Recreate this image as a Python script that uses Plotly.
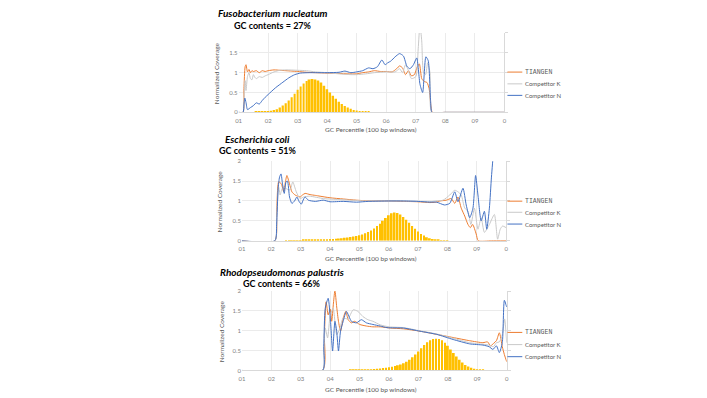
import plotly.graph_objects as go

W, H = 707, 398

# ---------------- data ----------------
tick_vals = [0.1, 0.2, 0.3, 0.4, 0.5, 0.6, 0.7, 0.8, 0.9, 1.0]
tick_text = ["01", "02", "03", "04", "05", "06", "07", "08", "09", "0"]
series_names = ["TIANGEN", "Competitor K", "Competitor N"]

# Panel 1: Fusobacterium nucleatum
fus_tiangen_x = [0.10, 0.115, 0.118, 0.122, 0.125, 0.13, 0.135, 0.14, 0.145, 0.15, 0.16, 0.17, 0.18, 0.19, 0.20, 0.22, 0.24, 0.26, 0.28, 0.30, 0.33, 0.36, 0.40, 0.44, 0.47, 0.50, 0.52, 0.54, 0.56, 0.58, 0.60, 0.62, 0.635, 0.645, 0.655, 0.665, 0.675, 0.685, 0.695, 0.705, 0.712, 0.72, 0.728, 0.738, 0.745, 0.752, 0.756, 0.80, 0.90, 1.0]
fus_tiangen_y = [0, 0, 0.6, 1.15, 1.2, 1.02, 1.08, 1.0, 1.05, 1.03, 1.05, 1.0, 1.05, 1.03, 1.05, 1.07, 1.06, 1.05, 1.04, 1.03, 1.01, 1.0, 0.99, 0.98, 0.97, 0.97, 1.0, 1.02, 1.05, 1.03, 1.03, 1.02, 1.1, 1.17, 1.12, 0.95, 1.05, 0.92, 0.95, 1.15, 1.22, 0.85, 0.78, 0.75, 0.6, 0.1, 0, 0, 0, 0]
fus_k_x = [0.10, 0.115, 0.119, 0.122, 0.125, 0.13, 0.135, 0.14, 0.145, 0.15, 0.155, 0.16, 0.17, 0.18, 0.19, 0.20, 0.22, 0.24, 0.26, 0.30, 0.33, 0.36, 0.40, 0.44, 0.48, 0.50, 0.53, 0.56, 0.60, 0.63, 0.645, 0.655, 0.665, 0.675, 0.685, 0.70, 0.708, 0.714, 0.72, 0.726, 0.733, 0.74, 0.748, 0.754, 0.8, 1.0]
fus_k_y = [0, 0, 0.5, 0.8, 0.55, 0.9, 1.0, 0.85, 0.82, 0.95, 0.88, 0.85, 0.9, 0.88, 0.92, 0.95, 1.02, 1.06, 1.07, 1.06, 1.05, 1.02, 1.0, 0.97, 0.95, 0.95, 0.97, 1.0, 1.02, 1.02, 1.1, 1.0, 1.2, 1.05, 0.85, 0.9, 1.6, 2.2, 1.8, 1.0, 0.95, 1.25, 1.0, 0, 0, 0]
fus_n_x = [0.10, 0.115, 0.118, 0.121, 0.125, 0.13, 0.14, 0.15, 0.16, 0.17, 0.18, 0.19, 0.20, 0.225, 0.25, 0.27, 0.29, 0.31, 0.34, 0.36, 0.40, 0.44, 0.46, 0.48, 0.50, 0.52, 0.54, 0.555, 0.57, 0.585, 0.596, 0.605, 0.615, 0.63, 0.645, 0.658, 0.67, 0.68, 0.692, 0.703, 0.714, 0.723, 0.734, 0.742, 0.75, 0.755, 0.8, 1.0]
fus_n_y = [0, 0, 0.2, 0.36, 0.25, 0.07, 0.12, 0.17, 0.24, 0.21, 0.3, 0.38, 0.45, 0.62, 0.76, 0.87, 0.95, 0.99, 1.0, 1.0, 1.0, 1.01, 1.04, 1.0, 1.02, 1.05, 1.12, 1.1, 1.15, 1.32, 1.2, 1.25, 1.29, 1.4, 1.48, 1.42, 1.16, 1.1, 1.2, 1.37, 0.71, 0.5, 1.4, 1.3, 0.3, 0, 0, 0]
fus_bar_x = [0.14, 0.15, 0.16, 0.17, 0.18, 0.19, 0.20, 0.21, 0.22, 0.23, 0.24, 0.25, 0.26, 0.27, 0.28, 0.29, 0.30, 0.31, 0.32, 0.33, 0.34, 0.35, 0.36, 0.37, 0.38, 0.39, 0.40, 0.41, 0.42, 0.43, 0.44, 0.45, 0.46, 0.47, 0.48, 0.49, 0.50, 0.51, 0.52, 0.53, 0.54, 0.55, 0.56, 0.57, 0.58, 0.59, 0.60]
fus_bar_y = [0.005, 0.005, 0.01, 0.01, 0.015, 0.02, 0.03, 0.04, 0.06, 0.08, 0.12, 0.17, 0.23, 0.3, 0.38, 0.47, 0.57, 0.65, 0.73, 0.79, 0.83, 0.84, 0.83, 0.8, 0.75, 0.67, 0.58, 0.5, 0.42, 0.34, 0.27, 0.21, 0.16, 0.12, 0.09, 0.06, 0.045, 0.03, 0.02, 0.015, 0.01, 0.006, 0.004, 0.003, 0.003, 0.002, 0.002]

# Panel 2: Escherichia coli
eco_tiangen_x = [0.10, 0.212, 0.218, 0.225, 0.234, 0.242, 0.248, 0.253, 0.262, 0.27, 0.281, 0.29, 0.298, 0.306, 0.315, 0.332, 0.35, 0.366, 0.4, 0.445, 0.49, 0.535, 0.6, 0.65, 0.7, 0.74, 0.76, 0.774, 0.796, 0.813, 0.825, 0.836, 0.847, 0.859, 0.87, 0.878, 0.886, 0.898, 0.905, 0.95, 1.0]
eco_tiangen_y = [0, 0, 0.7, 1.48, 1.43, 1.23, 1.48, 1.64, 1.43, 1.23, 1.15, 1.12, 1.1, 1.15, 1.19, 1.16, 1.14, 1.12, 1.08, 1.05, 1.02, 1.0, 1.0, 0.99, 0.98, 0.96, 0.97, 1.0, 1.02, 1.06, 0.94, 1.1, 0.82, 0.62, 0.41, 0.33, 0.41, 0.17, 0, 0, 0]
eco_k_x = [0.10, 0.212, 0.218, 0.225, 0.23, 0.236, 0.242, 0.253, 0.264, 0.273, 0.285, 0.298, 0.31, 0.33, 0.377, 0.42, 0.47, 0.53, 0.6, 0.65, 0.7, 0.74, 0.76, 0.785, 0.808, 0.825, 0.836, 0.847, 0.859, 0.87, 0.88, 0.892, 0.904, 0.915, 0.926, 0.943, 0.96, 0.971, 0.98, 0.988, 1.0]
eco_k_y = [0, 0, 0.6, 1.35, 1.15, 1.3, 1.35, 1.3, 1.28, 1.48, 1.23, 1.06, 1.1, 1.12, 1.06, 1.04, 1.02, 1.0, 1.0, 1.0, 0.99, 0.98, 1.0, 1.02, 1.15, 1.27, 1.23, 1.15, 0.82, 0.74, 0.41, 0.82, 0.29, 0.58, 0.21, 0.41, 0.66, 0.04, 0.29, 0.37, 0.33]
eco_n_x = [0.10, 0.212, 0.218, 0.223, 0.228, 0.233, 0.238, 0.244, 0.25, 0.255, 0.262, 0.27, 0.279, 0.287, 0.295, 0.302, 0.31, 0.315, 0.326, 0.35, 0.377, 0.4, 0.445, 0.49, 0.53, 0.6, 0.65, 0.7, 0.74, 0.763, 0.79, 0.808, 0.825, 0.836, 0.853, 0.864, 0.876, 0.887, 0.896, 0.904, 0.915, 0.926, 0.934, 0.943, 0.95, 0.958, 0.97, 1.0]
eco_n_y = [0, 0, 0.4, 1.3, 1.6, 1.68, 1.43, 1.19, 1.48, 1.5, 1.1, 0.94, 1.0, 1.1, 0.98, 0.92, 1.05, 1.1, 1.02, 0.99, 1.02, 0.98, 0.99, 0.97, 0.99, 1.0, 1.0, 0.99, 0.97, 0.97, 0.9, 0.94, 1.23, 0.98, 1.32, 0.9, 0.58, 0.82, 1.64, 1.15, 0.5, 0.74, 0.29, 0.82, 1.6, 2.3, 3.0, 3.0]
eco_bar_x = [0.25, 0.26, 0.27, 0.28, 0.29, 0.30, 0.31, 0.32, 0.33, 0.34, 0.35, 0.36, 0.37, 0.38, 0.39, 0.40, 0.41, 0.42, 0.43, 0.44, 0.45, 0.46, 0.47, 0.48, 0.49, 0.50, 0.51, 0.52, 0.53, 0.54, 0.55, 0.56, 0.57, 0.58, 0.59, 0.60, 0.61, 0.62, 0.63, 0.64, 0.65, 0.66, 0.67, 0.68, 0.69, 0.70, 0.71, 0.72, 0.73, 0.74, 0.75, 0.76, 0.77, 0.78, 0.79, 0.80]
eco_bar_y = [0.005, 0.005, 0.008, 0.01, 0.01, 0.012, 0.015, 0.017, 0.02, 0.022, 0.025, 0.028, 0.03, 0.034, 0.038, 0.042, 0.047, 0.052, 0.058, 0.065, 0.073, 0.082, 0.092, 0.105, 0.12, 0.14, 0.16, 0.19, 0.22, 0.26, 0.31, 0.37, 0.43, 0.5, 0.57, 0.64, 0.69, 0.71, 0.7, 0.66, 0.6, 0.53, 0.45, 0.37, 0.3, 0.23, 0.17, 0.13, 0.09, 0.065, 0.045, 0.03, 0.02, 0.012, 0.007, 0.004]

# Panel 3: Rhodopseudomonas palustris
rho_tiangen_x = [0.10, 0.374, 0.38, 0.386, 0.393, 0.40, 0.405, 0.411, 0.416, 0.422, 0.428, 0.435, 0.444, 0.453, 0.461, 0.472, 0.483, 0.50, 0.523, 0.545, 0.57, 0.604, 0.649, 0.705, 0.762, 0.818, 0.874, 0.919, 0.935, 0.945, 0.955, 0.965, 0.975, 0.985, 0.992, 1.0]
rho_tiangen_y = [0, 0, 0.9, 1.73, 1.4, 1.55, 1.24, 1.7, 2.02, 1.6, 1.24, 0.99, 1.32, 1.49, 1.28, 1.2, 1.24, 1.16, 1.12, 1.1, 1.1, 1.07, 1.05, 0.99, 0.91, 0.83, 0.75, 0.7, 0.72, 0.62, 0.68, 0.75, 0.95, 0.6, 0.4, 0.22]
rho_k_x = [0.10, 0.374, 0.378, 0.383, 0.391, 0.40, 0.41, 0.422, 0.433, 0.444, 0.46, 0.478, 0.494, 0.511, 0.528, 0.545, 0.57, 0.6, 0.649, 0.705, 0.762, 0.818, 0.874, 0.919, 0.94, 0.955, 0.965, 0.975, 0.985, 0.993, 1.0]
rho_k_y = [0, 0, 0.5, 1.07, 0.82, 1.4, 1.57, 0.9, 1.07, 1.32, 1.3, 1.53, 1.49, 1.36, 1.28, 1.24, 1.15, 1.1, 1.08, 1.0, 0.92, 0.81, 0.7, 0.66, 0.64, 0.6, 0.7, 0.72, 0.9, 1.3, 0.7]
rho_n_x = [0.10, 0.374, 0.378, 0.383, 0.393, 0.401, 0.408, 0.416, 0.422, 0.428, 0.435, 0.444, 0.455, 0.472, 0.489, 0.506, 0.523, 0.545, 0.57, 0.593, 0.649, 0.705, 0.762, 0.818, 0.874, 0.919, 0.94, 0.953, 0.965, 0.975, 0.985, 0.992, 1.0]
rho_n_y = [0, 0, 0.6, 1.57, 1.82, 1.24, 0.49, 1.24, 0.99, 0.49, 0.99, 1.24, 1.49, 1.24, 1.2, 1.28, 1.2, 1.16, 1.12, 1.08, 1.07, 0.99, 0.91, 0.78, 0.67, 0.64, 0.6, 0.53, 0.62, 0.45, 0.7, 1.77, 1.6]
rho_bar_x = [0.45, 0.46, 0.47, 0.48, 0.49, 0.50, 0.51, 0.52, 0.53, 0.54, 0.55, 0.56, 0.57, 0.58, 0.59, 0.60, 0.61, 0.62, 0.63, 0.64, 0.65, 0.66, 0.67, 0.68, 0.69, 0.70, 0.71, 0.72, 0.73, 0.74, 0.75, 0.76, 0.77, 0.78, 0.79, 0.80, 0.81, 0.82, 0.83, 0.84, 0.85, 0.86, 0.87, 0.88, 0.89, 0.90, 0.91, 0.92, 0.93, 0.94, 0.95]
rho_bar_y = [0.005, 0.007, 0.01, 0.012, 0.015, 0.018, 0.02, 0.024, 0.028, 0.033, 0.038, 0.045, 0.052, 0.06, 0.07, 0.082, 0.095, 0.11, 0.13, 0.15, 0.18, 0.22, 0.27, 0.33, 0.4, 0.48, 0.56, 0.64, 0.71, 0.76, 0.79, 0.8, 0.79, 0.76, 0.7, 0.62, 0.53, 0.44, 0.35, 0.27, 0.2, 0.14, 0.1, 0.07, 0.045, 0.03, 0.02, 0.012, 0.007, 0.004, 0.002]

panels = [
    dict(species="Fusobacterium nucleatum", gc="GC contents = 27%",
         lines=[(fus_tiangen_x, fus_tiangen_y), (fus_k_x, fus_k_y), (fus_n_x, fus_n_y)],
         bars=(fus_bar_x, fus_bar_y),
         plot=(237.3, 505.0, 29.5, 110.3), ytl=["0", "0.5", "1", "1.5", ""],
         sp=(215, 9.5), gcp=(231, 21.5), ytitle_x=215, xtitle_y=128,
         leg=[69.3, 81.3, 93.0]),
    dict(species="Escherichia coli", gc="GC contents = 51%",
         lines=[(eco_tiangen_x, eco_tiangen_y), (eco_k_x, eco_k_y), (eco_n_x, eco_n_y)],
         bars=(eco_bar_x, eco_bar_y),
         plot=(240.7, 506.7, 160.0, 241.0), ytl=["0", "0.5", "1", "1.5", "2"],
         sp=(221.7, 137.5), gcp=(215.7, 149.5), ytitle_x=219, xtitle_y=259,
         leg=[200.7, 212.0, 224.0]),
    dict(species="Rhodopseudomonas palustris", gc="GC contents = 66%",
         lines=[(rho_tiangen_x, rho_tiangen_y), (rho_k_x, rho_k_y), (rho_n_x, rho_n_y)],
         bars=(rho_bar_x, rho_bar_y),
         plot=(240.7, 507.3, 292.3, 373.0), ytl=["0", "0.5", "1", "1.5", "2"],
         sp=(216.7, 272.7), gcp=(240, 284.5), ytitle_x=220, xtitle_y=392,
         leg=[334.3, 346.7, 359.0]),
]

line_colors = ["#ED7D31", "#C9C9C9", "#4472C4"]
bar_color = "#FFC000"
grid = "#EBEBEB"
tick_font = dict(family="Lato, Open Sans, sans-serif", size=6, color="#7F7F7F")


def fx(p):
    return p / W


def fy(p):
    return 1 - p / H


fig = go.Figure()
annotations = []
shapes = []

for i, pn in enumerate(panels):
    n = i + 1
    xa = "x" if n == 1 else f"x{n}"
    ya = "y" if n == 1 else f"y{n}"
    ya2 = f"y{n + 3}"
    x0, x1, y0, y1 = pn["plot"]

    bx, by = pn["bars"]
    fig.add_trace(go.Bar(x=bx, y=by, marker=dict(color=bar_color, line=dict(width=0)),
                         width=0.0062, xaxis=xa, yaxis=ya, showlegend=False, hoverinfo="skip"))
    for (lx, ly), col, name in zip(pn["lines"], line_colors, series_names):
        fig.add_trace(go.Scatter(x=lx, y=ly, mode="lines", name=name,
                                 line=dict(color=col, width=1.0, shape="spline", smoothing=0.6),
                                 xaxis=xa, yaxis=ya, showlegend=False))
    fig.add_trace(go.Scatter(x=[None], y=[None], xaxis=xa, yaxis=ya2, showlegend=False, hoverinfo="skip"))

    xkey = "xaxis" if n == 1 else f"xaxis{n}"
    ykey = "yaxis" if n == 1 else f"yaxis{n}"
    fig.update_layout(**{
        xkey: dict(domain=[fx(x0), fx(x1)], anchor=ya, range=[0.1, 1.0],
                   tickvals=tick_vals, ticktext=tick_text, tickfont=tick_font,
                   showgrid=True, gridcolor=grid, gridwidth=1, zeroline=False,
                   showline=True, linecolor="#D9D9D9", linewidth=1, ticks="", ticklabelstandoff=2),
        ykey: dict(domain=[fy(y1), fy(y0)], anchor=xa, range=[0, 2],
                   tickvals=[0, 0.5, 1, 1.5, 2], ticktext=pn["ytl"], tickfont=tick_font,
                   showgrid=True, gridcolor=grid, gridwidth=1, zeroline=False,
                   showline=False, ticks=""),
        f"yaxis{n + 3}": dict(overlaying=ya, anchor=xa, side="right", range=[0, 2],
                              dtick=0.5, showticklabels=False, showgrid=False, zeroline=False,
                              showline=True, linecolor="#D9D9D9", linewidth=1,
                              ticks="outside", ticklen=3, tickcolor="#D9D9D9"),
    })

    annotations.append(dict(text=f"<b><i>{pn['species']}</i></b>", x=fx(pn["sp"][0]), y=fy(pn["sp"][1]),
                            xref="paper", yref="paper", xanchor="left", yanchor="middle", showarrow=False,
                            font=dict(family="Lato, sans-serif", size=10, color="#000000")))
    annotations.append(dict(text=f"<b>{pn['gc']}</b>", x=fx(pn["gcp"][0]), y=fy(pn["gcp"][1]),
                            xref="paper", yref="paper", xanchor="left", yanchor="middle", showarrow=False,
                            font=dict(family="Lato, sans-serif", size=9, color="#000000")))
    annotations.append(dict(text="Normalized Coverage", x=fx(pn["ytitle_x"]), y=fy((y0 + y1) / 2),
                            xref="paper", yref="paper", xanchor="center", yanchor="middle", showarrow=False,
                            textangle=-90, font=dict(family="Lato, sans-serif", size=6.5, color="#595959")))
    annotations.append(dict(text="GC Percentile (100 bp windows)", x=fx(371), y=fy(pn["xtitle_y"]),
                            xref="paper", yref="paper", xanchor="center", yanchor="middle", showarrow=False,
                            font=dict(family="Lato, sans-serif", size=6.5, color="#595959")))
    for ly, col, name in zip(pn["leg"], line_colors, series_names):
        shapes.append(dict(type="line", xref="paper", yref="paper", x0=fx(508), x1=fx(523),
                           y0=fy(ly), y1=fy(ly), line=dict(color=col, width=1.0)))
        if name == "TIANGEN":
            f = dict(family="Liberation Mono, DejaVu Sans Mono, monospace", size=6.5, color="#595959")
        else:
            f = dict(family="Lato, sans-serif", size=6, color="#595959")
        annotations.append(dict(text=name, x=fx(524), y=fy(ly), xref="paper", yref="paper",
                                xanchor="left", yanchor="middle", showarrow=False, font=f))

fig.update_layout(width=W, height=H, margin=dict(l=0, r=0, t=0, b=0),
                  paper_bgcolor="white", plot_bgcolor="white", barmode="overlay",
                  annotations=annotations, shapes=shapes, showlegend=False)

fig.write_html("out.html", config={"displayModeBar": False},
               post_script="document.body.style.margin='0px';document.body.style.overflow='hidden';")
